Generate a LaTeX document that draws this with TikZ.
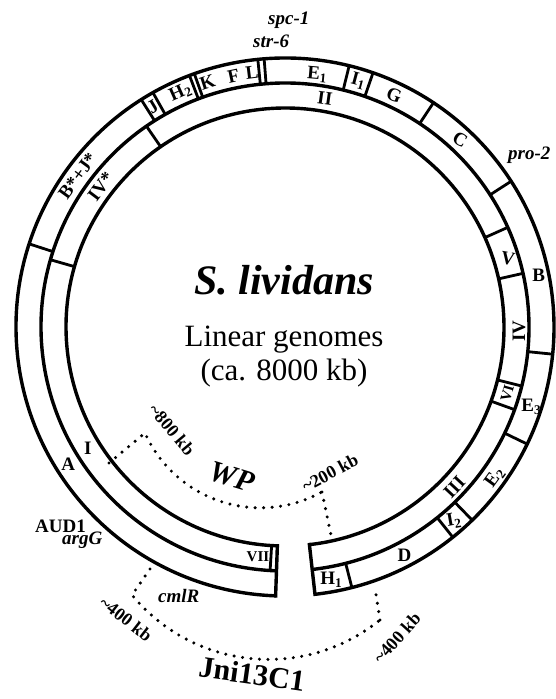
\documentclass[tikz,border=0pt]{standalone}
\usepackage{fontspec}
\setmainfont{Liberation Serif}
\usetikzlibrary{calc}
\begin{document}
\begin{tikzpicture}[x=1pt,y=1pt,
  ring/.style={line width=3.4pt},
  sepline/.style={line width=2.8pt},
  endline/.style={line width=3.4pt,line cap=rect},
  dots/.style={line width=3.4pt,line cap=round,dash pattern=on 0pt off 8.5pt},
  frag/.style={font=\fontsize{19}{21}\selectfont\bfseries,inner sep=0pt},
  smallfrag/.style={font=\fontsize{15}{17}\selectfont\bfseries,inner sep=0pt},
  gene/.style={font=\fontsize{19}{21}\selectfont\bfseries\itshape,inner sep=0pt},
  kb/.style={font=\fontsize{18}{20}\selectfont\bfseries,inner sep=0pt}]
\useasboundingbox (0,0) rectangle (555,699);
\coordinate (O) at (285,372);
\def\Ra{269}\def\Rb{244}\def\Rc{219}
% rings
\draw[ring] ($(O)+(-83.6:\Ra)$) arc[start angle=-83.6,end angle=268,radius=\Ra];
\draw[ring] ($(O)+(-83.6:\Rb)$) arc[start angle=-83.6,end angle=268,radius=\Rb];
\draw[ring] ($(O)+(-83.6:\Rc)$) arc[start angle=-83.6,end angle=268,radius=\Rc];
\draw[endline] ($(O)+(-83.6:\Rc)$) -- ($(O)+(-83.6:\Ra)$);
\draw[endline] ($(O)+(268:\Rc)$) -- ($(O)+(268:\Ra)$);
% outer ring boundaries
\foreach \a in {162,122.3,119.4,110.8,109.7,95.8,94.45,76.2,70.9,56.5,32.8,-5.8,-25.8,-45.9,-51.4,-75.6}
  \draw[sepline] ($(O)+(\a:\Rb)$) -- ($(O)+(\a:\Ra)$);
% inner ring boundaries
\foreach \a in {164,124.6,24.1,12.7,-14,-19.8,-93.5}
  \draw[sepline] ($(O)+(\a:\Rc)$) -- ($(O)+(\a:\Rb)$);
% outer ring labels
\node[frag] (fA) at ($(O)+(212.3:256.5)$) {A};
\node[frag,rotate=54] (fBJ) at ($(O)+(143.9:256.5)$) {B*+J*};
\node[frag,rotate=31] (fJ) at ($(O)+(121.0:256.5)$) {J};
\node[frag,rotate=24] (fH2) at ($(O)+(114:257)$) {H\textsubscript{2}};
\node[frag,rotate=18] (fK) at ($(O)+(107.6:256.5)$) {K};
\node[frag,rotate=12] (fF) at ($(O)+(101.6:256.5)$) {F};
\node[frag,rotate=7] (fL) at ($(O)+(97.4:256.5)$) {L};
\node[frag,rotate=-5] (fE1) at ($(O)+(82.7:254)$) {E\textsubscript{1}};
\node[frag,rotate=-15] (fI1) at ($(O)+(73.4:256.5)$) {I\textsubscript{1}};
\node[frag,rotate=-20] (fG) at ($(O)+(64.8:256.5)$) {G};
\node[frag,rotate=-30] (fC) at ($(O)+(46.9:256.5)$) {C};
\node[frag] (fB) at ($(O)+(11.5:259)$) {B};
\node[frag] (fE3) at ($(O)+(-18:259)$) {E\textsubscript{3}};
\node[frag,rotate=54] (fE2) at ($(O)+(-35.6:258)$) {E\textsubscript{2}};
\node[frag,rotate=10] (fI2) at ($(O)+(-48.9:257)$) {I\textsubscript{2}};
\node[frag] (fD) at ($(O)+(-62.4:258)$) {D};
\node[frag] (fH1) at ($(O)+(-79.6:257)$) {H\textsubscript{1}};
% inner ring labels
\node[frag] (dI) at ($(O)+(211.6:231.5)$) {I};
\node[frag,rotate=53] (dIVs) at ($(O)+(142.7:231.5)$) {IV*};
\node[frag,rotate=-8] (dII) at ($(O)+(80.1:232)$) {II};
\node[frag,rotate=-10] (dV) at ($(O)+(17:233)$) {V};
\node[frag,rotate=90] (dIV) at ($(O)+(-1:234)$) {IV};
\node[smallfrag,rotate=74] (dVI) at ($(O)+(-16.7:232)$) {VI};
\node[frag,rotate=47] (dIII) at ($(O)+(-43.4:233)$) {III};
\node[smallfrag] (dVII) at ($(O)+(-96.7:231.5)$) {VII};
% gene markers
\node[gene,anchor=base west] (spc) at (268,674) {spc-1};
\node[gene,anchor=base west] (str) at (253,651) {str-6};
\node[gene,anchor=base west] (pro) at (508,539) {pro-2};
\node[font=\fontsize{19}{21}\selectfont\bfseries,inner sep=0pt,anchor=base west] (aud) at (35,166) {AUD1};
\node[gene,anchor=base west] (arg) at (62,154) {argG};
\node[gene,anchor=base west] (cml) at (158,96) {cmlR};
% central texts
\node[font=\fontsize{42}{46}\selectfont\bfseries\itshape,inner sep=0pt,anchor=base] (title) at (284,404) {S. lividans};
\node[font=\fontsize{31}{34}\selectfont,inner sep=0pt,anchor=base] (lin) at (284,352) {Linear genomes};
\node[font=\fontsize{31}{34}\selectfont,inner sep=0pt,anchor=base] (size) at (284,318) {(ca. 8000 kb)};
% WP deletion
\coordinate (wpA) at (109,236);
\coordinate (wpB) at (145,266);
\coordinate (wpC) at (322,207);
\coordinate (wpD) at (332,159);
\draw[dots] (wpA) -- (wpB) arc[start angle=204.1,end angle=299.1,radius=126.5];
\draw[dots] (wpC) -- (wpD);
\node[font=\fontsize{30}{32}\selectfont\bfseries\itshape,inner sep=0pt,rotate=-17] (wp) at (232,222) {WP};
\node[kb,rotate=-50] (kb800) at (172,269) {\textasciitilde800 kb};
\node[kb,rotate=28] (kb200) at (330,226) {\textasciitilde200 kb};
% Jni13C1 deletion
\coordinate (jA) at (150,130);
\coordinate (jB) at (132,104);
\coordinate (jC) at (380,79);
\coordinate (jD) at (375,111);
\draw[dots] (jA) -- (jB) arc[start angle=219.5,end angle=309.3,radius=177];
\draw[dots] (jC) -- (jD);
\node[font=\fontsize{30}{32}\selectfont\bfseries,inner sep=0pt,rotate=-8] (jni) at (252,25) {Jni13C1};
\node[kb,rotate=-38] (kb400a) at (126,80) {\textasciitilde400 kb};
\node[kb,rotate=48] (kb400b) at (397,61) {\textasciitilde400 kb};
\end{tikzpicture}
\end{document}
